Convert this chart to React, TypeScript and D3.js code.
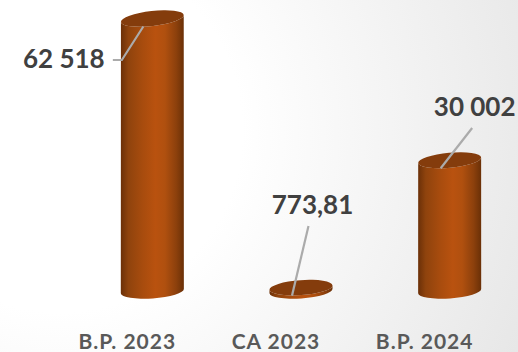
import React from "react";
import * as d3 from "d3";

const categories = ["B.P. 2023", "CA 2023", "B.P. 2024"];
const values = [62518, 773.81, 30002];
const valueLabels = ["62 518", "773,81", "30 002"];

const WIDTH = 518;
const HEIGHT = 352;
const BASE_Y = 291;
const TOP_Y = 18.5;
const RX = 31.6;
const RY = 7.5;

const x = d3.scaleBand<string>().domain(categories).range([78, 524]).paddingInner(0.58).paddingOuter(0.29);
const y = d3.scaleLinear().domain([0, 62518]).range([BASE_Y, TOP_Y]);
// The 3D view tilts an end cap more the higher up it sits.
const tilt = d3.scaleLinear().domain([0, 62518]).range([-4, -6.5]);

// Value label baseline and leader line start, relative to each cylinder's top centre.
const labelOffsets = [
  { dx: -88.5, dy: 49.5, line: [[-39.5, 41.5], [-30.5, 41.5]] },
  { dx: 11.5, dy: -73.6, line: [[7.5, -61.6]] },
  { dx: 25, dy: -44.2, line: [[22.5, -32.2]] },
];

function capEnds(cx: number, cy: number, deg: number) {
  const rad = (deg * Math.PI) / 180;
  const ex = RX * Math.cos(rad);
  const ey = RX * Math.sin(rad);
  return { l: [cx - ex, cy - ey], r: [cx + ex, cy + ey] };
}

function bodyPath(cx: number, top: number, base: number, topTilt: number, baseTilt: number) {
  const t = capEnds(cx, top, topTilt);
  const b = capEnds(cx, base, baseTilt);
  return [
    `M${t.l}`,
    `L${b.l}`,
    `A${RX},${RY} ${baseTilt} 0 0 ${b.r}`,
    `L${t.r}`,
    `A${RX},${RY} ${topTilt} 0 1 ${t.l}`,
    "Z",
  ].join(" ");
}

export default function App() {
  return (
    <svg
      width={WIDTH}
      height={HEIGHT}
      viewBox={`0 0 ${WIDTH} ${HEIGHT}`}
      style={{ position: "absolute", left: 0, top: 0 }}
      fontFamily="Lato, 'Open Sans', sans-serif"
      fontWeight={700}
    >
      <defs>
        <radialGradient id="backdrop" gradientUnits="userSpaceOnUse" cx={60} cy={130} r={520}>
          <stop offset="0.35" stopColor="#ffffff" />
          <stop offset="1" stopColor="#e6e6e6" />
        </radialGradient>
        <linearGradient id="cylinderShade" x1="0" x2="1" y1="0" y2="0">
          <stop offset="0" stopColor="#6b3008" />
          <stop offset="0.12" stopColor="#8f430d" />
          <stop offset="0.35" stopColor="#a84c0e" />
          <stop offset="0.55" stopColor="#b9520f" />
          <stop offset="0.7" stopColor="#b0500f" />
          <stop offset="0.88" stopColor="#8c400c" />
          <stop offset="1" stopColor="#6a3007" />
        </linearGradient>
      </defs>
      <rect width={WIDTH} height={HEIGHT} fill="url(#backdrop)" />
      {categories.map((c, i) => {
        const cx = (x(c) as number) + x.bandwidth() / 2;
        const top = y(values[i]);
        const topTilt = tilt(values[i]);
        const off = labelOffsets[i];
        const linePts: [number, number][] = [
          ...off.line.map(([dx, dy]) => [cx + dx, top + dy] as [number, number]),
          [cx - 9, top + 8],
        ];
        return (
          <g key={c}>
            <path d={bodyPath(cx, top, BASE_Y, topTilt, tilt(0))} fill="url(#cylinderShade)" />
            <ellipse cx={cx} cy={top} rx={RX} ry={RY} fill="#843c0c" transform={`rotate(${topTilt} ${cx} ${top})`} />
            <path d={d3.line()(linePts) as string} fill="none" stroke="#ababab" strokeWidth={2.2} />
            <text x={cx + off.dx} y={top + off.dy} textAnchor="middle" fontSize={26} fill="#404040">
              {valueLabels[i]}
            </text>
            <text x={cx - 25} y={349} textAnchor="middle" fontSize={21} letterSpacing={1} fill="#595959">
              {c}
            </text>
          </g>
        );
      })}
    </svg>
  );
}
